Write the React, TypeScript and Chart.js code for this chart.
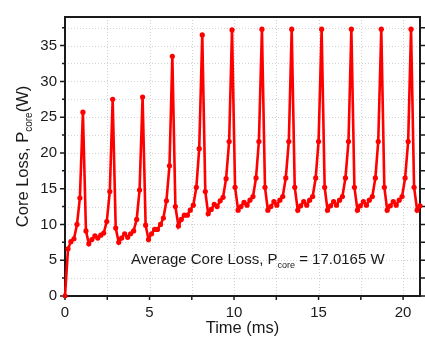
import React, { useEffect, useRef } from "react";
import { Chart, registerables } from "chart.js";

Chart.register(...registerables);

// ---- data ----
const timeMs = [
  0, 0.18, 0.35, 0.53, 0.71, 0.88, 1.06, 1.24, 1.41, 1.59,
  1.77, 1.94, 2.12, 2.29, 2.47, 2.65, 2.82, 3.0, 3.18, 3.35,
  3.53, 3.71, 3.88, 4.06, 4.24, 4.41, 4.59, 4.77, 4.94, 5.12,
  5.3, 5.47, 5.65, 5.82, 6.0, 6.18, 6.35, 6.53, 6.71, 6.88,
  7.06, 7.24, 7.41, 7.59, 7.77, 7.94, 8.12, 8.3, 8.47, 8.65,
  8.83, 9.0, 9.18, 9.35, 9.53, 9.71, 9.88, 10.06, 10.24, 10.41,
  10.59, 10.77, 10.94, 11.12, 11.3, 11.47, 11.65, 11.83, 12.0, 12.18,
  12.36, 12.53, 12.71, 12.88, 13.06, 13.24, 13.41, 13.59, 13.77, 13.94,
  14.12, 14.3, 14.47, 14.65, 14.83, 15.0, 15.18, 15.36, 15.53, 15.71,
  15.89, 16.06, 16.24, 16.41, 16.59, 16.77, 16.94, 17.12, 17.3, 17.47,
  17.65, 17.83, 18.0, 18.18, 18.36, 18.53, 18.71, 18.89, 19.06, 19.24,
  19.42, 19.59, 19.77, 19.94, 20.12, 20.3, 20.47, 20.65, 20.83, 21.0,
  21.18,
];

const coreLossW = [
  0, 6.6, 7.6, 8.0, 10.0, 13.7, 25.7, 9.1, 7.3, 7.9,
  8.4, 8.1, 8.5, 8.8, 10.4, 14.6, 27.5, 9.5, 7.5, 8.1,
  8.7, 8.2, 8.7, 9.1, 10.7, 14.8, 27.8, 9.9, 7.9, 8.7,
  9.3, 9.3, 10.0, 10.9, 13.3, 18.2, 33.5, 12.5, 9.8, 10.7,
  11.3, 11.3, 12.0, 12.7, 15.2, 20.6, 36.5, 14.6, 11.5, 12.1,
  12.8, 12.5, 13.3, 13.8, 16.4, 21.6, 37.2, 15.2, 12.0, 12.5,
  13.1, 12.7, 13.4, 13.9, 16.5, 21.6, 37.3, 15.2, 12.0, 12.5,
  13.2, 12.7, 13.4, 13.9, 16.5, 21.6, 37.3, 15.2, 12.0, 12.6,
  13.2, 12.7, 13.4, 13.9, 16.5, 21.6, 37.3, 15.2, 12.0, 12.6,
  13.2, 12.7, 13.4, 13.9, 16.5, 21.6, 37.3, 15.2, 12.0, 12.6,
  13.2, 12.7, 13.4, 13.9, 16.5, 21.6, 37.3, 15.2, 12.0, 12.6,
  13.2, 12.7, 13.4, 13.9, 16.5, 21.6, 37.3, 15.2, 12.0, 12.6,
  12.9,
];

const X_MIN = 0;
const X_MAX = 21;
const Y_MIN = 0;
const Y_MAX = 39;
const TICK_STEP = 2.5;
const LABEL_STEP = 5;

const xTitle = "Time (ms)";
const yTitleParts = ["Core Loss, P", "core", "(W)"];
const noteParts = ["Average Core Loss, P", "core", " = 17.0165 W"];

const FONT = "'Liberation Sans', Arial, sans-serif";
const INK = "#1a1a1a";
const RED = "#ff0000";

const decorPlugin = {
  id: "decor",
  beforeDatasetsDraw(chart: any) {
    const { ctx, chartArea: a, scales } = chart;
    const x = scales.x;
    const y = scales.y;
    ctx.save();
    // dotted grid
    ctx.strokeStyle = "#d2d2d2";
    ctx.lineWidth = 1;
    ctx.setLineDash([1, 2]);
    for (const t of x.ticks) {
      const px = Math.round(x.getPixelForValue(t.value)) + 0.5;
      if (px <= a.left + 1 || px >= a.right - 1) continue;
      ctx.beginPath();
      ctx.moveTo(px, a.top);
      ctx.lineTo(px, a.bottom);
      ctx.stroke();
    }
    for (const t of y.ticks) {
      const py = Math.round(y.getPixelForValue(t.value)) + 0.5;
      if (py <= a.top + 1 || py >= a.bottom - 1) continue;
      ctx.beginPath();
      ctx.moveTo(a.left, py);
      ctx.lineTo(a.right, py);
      ctx.stroke();
    }
    ctx.setLineDash([]);
    // tick marks
    ctx.strokeStyle = INK;
    ctx.lineWidth = 1.5;
    for (const t of y.ticks) {
      const py = y.getPixelForValue(t.value);
      const major = Math.abs(t.value % LABEL_STEP) < 1e-6;
      ctx.beginPath();
      ctx.moveTo(a.left, py);
      ctx.lineTo(a.left - (major ? 5 : 3), py);
      ctx.moveTo(a.right, py);
      ctx.lineTo(a.right + 5, py);
      ctx.stroke();
    }
    for (const t of x.ticks) {
      const px = x.getPixelForValue(t.value);
      ctx.beginPath();
      ctx.moveTo(px, a.bottom);
      ctx.lineTo(px, a.bottom + 4);
      ctx.stroke();
    }
    // frame
    ctx.lineWidth = 2;
    ctx.strokeRect(a.left, a.top, a.right - a.left, a.bottom - a.top);
    ctx.restore();
  },
  afterDraw(chart: any) {
    const { ctx, chartArea: a } = chart;
    ctx.save();
    ctx.fillStyle = INK;
    ctx.textBaseline = "alphabetic";

    // x title
    ctx.font = `16.5px ${FONT}`;
    ctx.textAlign = "center";
    ctx.fillText(xTitle, (a.left + a.right) / 2, 333);

    // y title with subscript, rotated
    const mainF = `16.5px ${FONT}`;
    const subF = `10px ${FONT}`;
    ctx.font = mainF;
    const w0 = ctx.measureText(yTitleParts[0]).width;
    const w2 = ctx.measureText(yTitleParts[2]).width;
    ctx.font = subF;
    const w1 = ctx.measureText(yTitleParts[1]).width;
    const total = w0 + w1 + w2;
    ctx.translate(28, (a.top + a.bottom) / 2);
    ctx.rotate(-Math.PI / 2);
    ctx.textAlign = "left";
    let cx = -total / 2;
    ctx.font = mainF;
    ctx.fillText(yTitleParts[0], cx, 0);
    cx += w0;
    ctx.font = subF;
    ctx.fillText(yTitleParts[1], cx, 4);
    cx += w1;
    ctx.font = mainF;
    ctx.fillText(yTitleParts[2], cx, 0);
    ctx.setTransform(1, 0, 0, 1, 0, 0);

    // annotation
    const nf = `15px ${FONT}`;
    const nsf = `9px ${FONT}`;
    let nx = 131;
    const ny = 264;
    ctx.textAlign = "left";
    ctx.font = nf;
    ctx.fillText(noteParts[0], nx, ny);
    nx += ctx.measureText(noteParts[0]).width;
    ctx.font = nsf;
    ctx.fillText(noteParts[1], nx, ny + 4);
    nx += ctx.measureText(noteParts[1]).width;
    ctx.font = nf;
    ctx.fillText(noteParts[2], nx, ny);
    ctx.restore();
  },
};

export default function App() {
  const ref = useRef<HTMLCanvasElement>(null);

  useEffect(() => {
    document.body.style.margin = "0";
    const canvas = ref.current;
    if (!canvas) return;
    const tickLabel = (v: any) =>
      Math.abs(Number(v) % LABEL_STEP) < 1e-6 ? String(v) : "";
    const chart = new Chart(canvas, {
      type: "line",
      data: {
        datasets: [
          {
            data: timeMs.map((t, i) => ({ x: t, y: coreLossW[i] })),
            borderColor: RED,
            backgroundColor: RED,
            borderWidth: 2.6,
            pointRadius: 2.6,
            pointBorderWidth: 0,
            pointBackgroundColor: RED,
            tension: 0,
            clip: { left: 2, top: 2, right: 5, bottom: 2 } as any,
          },
        ],
      },
      options: {
        animation: false,
        responsive: false,
        devicePixelRatio: 1,
        layout: { padding: { top: 5, right: 5, left: 0, bottom: 0 } },
        plugins: {
          legend: { display: false },
          tooltip: { enabled: false },
        },
        scales: {
          x: {
            type: "linear",
            min: X_MIN,
            max: X_MAX,
            grid: { display: false, drawTicks: false },
            border: { display: false },
            ticks: {
              stepSize: TICK_STEP,
              includeBounds: false,
              autoSkip: false,
              maxRotation: 0,
              padding: 8,
              color: INK,
              font: { family: FONT, size: 15 },
              callback: tickLabel,
            },
            afterFit: (s: any) => {
              s.height = 44;
            },
          },
          y: {
            type: "linear",
            min: Y_MIN,
            max: Y_MAX,
            grid: { display: false, drawTicks: false },
            border: { display: false },
            ticks: {
              stepSize: TICK_STEP,
              includeBounds: false,
              autoSkip: false,
              padding: 8,
              color: INK,
              font: { family: FONT, size: 15 },
              callback: tickLabel,
            },
            afterFit: (s: any) => {
              s.width = 65;
            },
          },
        },
      },
      plugins: [decorPlugin],
    });
    return () => chart.destroy();
  }, []);

  return (
    <canvas
      ref={ref}
      width={425}
      height={340}
      style={{ display: "block", width: 425, height: 340 }}
    />
  );
}
